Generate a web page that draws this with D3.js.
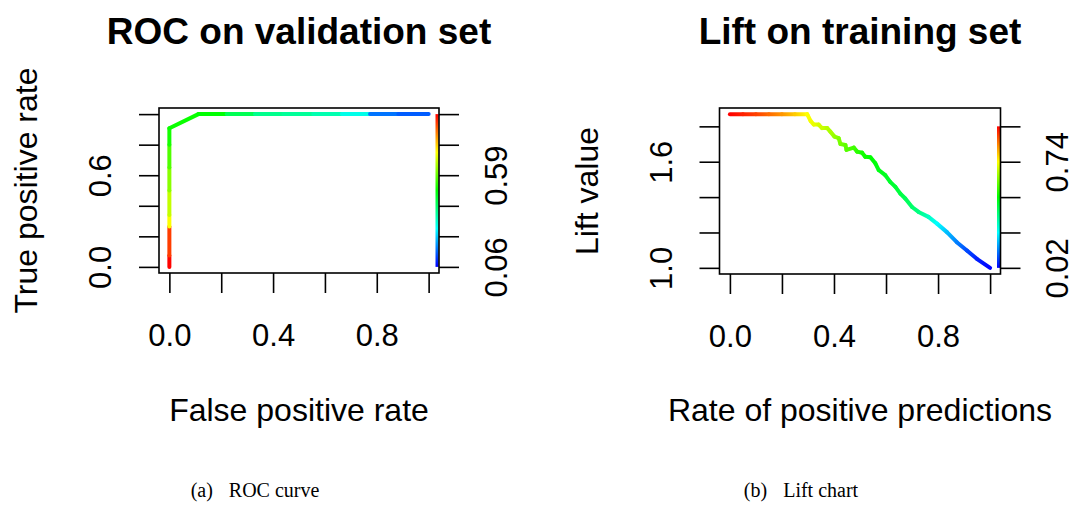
<!DOCTYPE html>
<html>
<head>
<meta charset="utf-8">
<script src="https://cdn.jsdelivr.net/npm/d3@7"></script>
<style>
  html, body { margin: 0; padding: 0; background: #fff; }
  svg { display: block; }
  text { font-family: "Liberation Sans", Arial, Helvetica, sans-serif; fill: #000; }
</style>
</head>
<body>
<script>
// ---------------- DATA ----------------
// ROC on validation set
const rocFPR = [0, 0, 0, 0, 0, 0, 0, 0, 0.112, 0.221, 0.33, 0.44, 0.555, 0.665, 0.774, 0.883, 1.0];
const rocTPR = [0, 0.075, 0.265, 0.34, 0.5, 0.65, 0.8, 0.907, 1, 1, 1, 1, 1, 1, 1, 1, 1];
// cutoff of each segment (between consecutive points)
const rocSegCutoff = [0.94, 0.89, 0.72, 0.67, 0.62, 0.57, 0.52, 0.51, 0.50, 0.43, 0.38, 0.37, 0.35, 0.30, 0.16, 0.14];
const rocCutRange = [0.06, 0.943];
const rocXTicks = [0, 0.2, 0.4, 0.6, 0.8, 1.0];
const rocXLabels = ["0.0", "", "0.4", "", "0.8", ""];
const rocYTicks = [0, 0.2, 0.4, 0.6, 0.8, 1.0];
const rocYLabels = ["0.0", "", "", "0.6", "", ""];
const rocCutTicks = [0.06, 0.237, 0.413, 0.59, 0.766, 0.943];
const rocCutLabels = ["0.06", "", "", "0.59", "", ""];

// Lift on training set
const liftRPP = [0, 0.05, 0.10, 0.15, 0.20, 0.25, 0.297, 0.31, 0.322, 0.341, 0.354, 0.374, 0.386, 0.402, 0.418, 0.425, 0.444, 0.448, 0.476, 0.489, 0.508, 0.52, 0.54, 0.559, 0.572, 0.597, 0.616, 0.636, 0.655, 0.674, 0.70, 0.725, 0.763, 0.796, 0.834, 0.872, 0.911, 0.949, 1.0];
const liftValue = [1.869, 1.869, 1.869, 1.869, 1.869, 1.869, 1.869, 1.831, 1.81, 1.81, 1.79, 1.79, 1.77, 1.742, 1.733, 1.70, 1.695, 1.667, 1.68, 1.657, 1.651, 1.628, 1.625, 1.591, 1.553, 1.524, 1.486, 1.458, 1.42, 1.392, 1.344, 1.316, 1.288, 1.25, 1.202, 1.145, 1.098, 1.051, 1.0];
const liftCutoff = [0.98, 0.95, 0.92, 0.88, 0.84, 0.79, 0.74, 0.73, 0.72, 0.70, 0.69, 0.67, 0.66, 0.64, 0.62, 0.61, 0.59, 0.58, 0.56, 0.54, 0.52, 0.51, 0.50, 0.49, 0.48, 0.47, 0.46, 0.45, 0.44, 0.42, 0.40, 0.38, 0.32, 0.26, 0.20, 0.14, 0.09, 0.05, 0.02];
const liftCutRange = [0.02, 0.98];
const liftXTicks = [0, 0.2, 0.4, 0.6, 0.8, 1.0];
const liftXLabels = ["0.0", "", "0.4", "", "0.8", ""];
const liftYTicks = [1.0, 1.2, 1.4, 1.6, 1.8];
const liftYLabels = ["1.0", "", "", "1.6", ""];
const liftCutTicks = [0.02, 0.26, 0.50, 0.74, 0.98];
const liftCutLabels = ["0.02", "", "", "0.74", ""];

// ---------------- DRAW ----------------
const W = 1073, H = 506;
const svg = d3.select("body").append("svg").attr("width", W).attr("height", H);
const defs = svg.append("defs");
let gid = 0;

function pad(ext) { const r = ext[1] - ext[0]; return [ext[0] - 0.04 * r, ext[1] + 0.04 * r]; }

function panel(cfg) {
  const b = cfg.box;
  const x = d3.scaleLinear().domain(pad(d3.extent(cfg.xs))).range([b.x0, b.x1]);
  const y = d3.scaleLinear().domain(pad(d3.extent(cfg.ys))).range([b.y1, b.y0]);
  const yT = cfg.yTicks;
  const cut = d3.scaleLinear().domain(cfg.cutRange).range([y(yT[0]), y(yT[yT.length - 1])]);
  const hue = d3.scaleLinear().domain(cfg.cutRange).range([240, 0]).clamp(true);
  const col = c => d3.hsl(hue(c), 1, 0.5).formatHex();
  const g = svg.append("g");

  // title
  g.append("text").attr("x", (b.x0 + b.x1) / 2).attr("y", 44)
    .attr("text-anchor", "middle").attr("font-weight", "bold").attr("font-size", 37)
    .text(cfg.title);

  // x axis
  const gx = g.append("g").attr("transform", `translate(0,${b.y1})`)
    .call(d3.axisBottom(x).tickValues(cfg.xTicks).tickSize(20).tickPadding(31)
      .tickFormat((d, i) => cfg.xLabels[i]));
  gx.select(".domain").remove();
  gx.selectAll(".tick line").attr("stroke", "#000").attr("stroke-width", 1.6);
  gx.selectAll(".tick text").attr("font-size", 31).attr("font-family", "Liberation Sans, Arial, sans-serif").attr("fill", "#000");

  // y axis (left)
  const gy = g.append("g").attr("transform", `translate(${b.x0},0)`)
    .call(d3.axisLeft(y).tickValues(cfg.yTicks).tickSize(20)
      .tickFormat((d, i) => cfg.yLabels[i]));
  gy.select(".domain").remove();
  gy.selectAll(".tick line").attr("stroke", "#000").attr("stroke-width", 1.6);
  gy.selectAll(".tick text").attr("font-size", 31).attr("font-family", "Liberation Sans, Arial, sans-serif").attr("fill", "#000")
    .attr("x", null).attr("dy", null).attr("text-anchor", "middle")
    .attr("transform", "translate(-48,0) rotate(-90)");

  // cutoff axis (right)
  const gc = g.append("g").attr("transform", `translate(${b.x1},0)`)
    .call(d3.axisRight(cut).tickValues(cfg.cutTicks).tickSize(20)
      .tickFormat((d, i) => cfg.cutLabels[i]));
  gc.select(".domain").remove();
  gc.selectAll(".tick line").attr("stroke", "#000").attr("stroke-width", 1.6);
  gc.selectAll(".tick text").attr("font-size", 31).attr("font-family", "Liberation Sans, Arial, sans-serif").attr("fill", "#000")
    .attr("x", null).attr("dy", null).attr("text-anchor", "middle")
    .attr("transform", "translate(67.5,0) rotate(-90)");

  // axis titles
  g.append("text").attr("x", (b.x0 + b.x1) / 2).attr("y", 421).attr("text-anchor", "middle")
    .attr("font-size", 32).text(cfg.xTitle);
  g.append("text").attr("text-anchor", "middle").attr("font-size", 32)
    .attr("transform", `translate(${b.x0 - 122},${(b.y0 + b.y1) / 2}) rotate(-90)`).text(cfg.yTitle);

  // colour bar
  const cbId = "cb" + (gid++);
  const cbGrad = defs.append("linearGradient").attr("id", cbId)
    .attr("gradientUnits", "userSpaceOnUse")
    .attr("x1", 0).attr("x2", 0).attr("y1", cut(cfg.cutRange[0])).attr("y2", cut(cfg.cutRange[1]));
  d3.range(0, 1.0001, 0.05).forEach(t => {
    const c = cfg.cutRange[0] + t * (cfg.cutRange[1] - cfg.cutRange[0]);
    cbGrad.append("stop").attr("offset", t).attr("stop-color", col(c));
  });
  g.append("rect").attr("x", b.x1 - 3.5).attr("width", 3.2)
    .attr("y", cut(cfg.cutRange[1])).attr("height", cut(cfg.cutRange[0]) - cut(cfg.cutRange[1]))
    .attr("fill", `url(#${cbId})`);

  // curve
  const lg = g.append("g").attr("fill", "none").attr("stroke-width", 4).attr("stroke-linecap", "round");
  for (let i = 0; i < cfg.xs.length - 1; i++) {
    const x1 = x(cfg.xs[i]), y1 = y(cfg.ys[i]), x2 = x(cfg.xs[i + 1]), y2 = y(cfg.ys[i + 1]);
    let stroke;
    if (cfg.segCut) {
      stroke = col(cfg.segCut[i]);
    } else {
      const id = "sg" + (gid++);
      const gr = defs.append("linearGradient").attr("id", id).attr("gradientUnits", "userSpaceOnUse")
        .attr("x1", x1).attr("y1", y1).attr("x2", x2 + (x2 === x1 && y2 === y1 ? 1 : 0)).attr("y2", y2);
      gr.append("stop").attr("offset", 0).attr("stop-color", col(cfg.ptCut[i]));
      gr.append("stop").attr("offset", 1).attr("stop-color", col(cfg.ptCut[i + 1]));
      stroke = `url(#${id})`;
    }
    lg.append("line").attr("x1", x1).attr("y1", y1).attr("x2", x2).attr("y2", y2).attr("stroke", stroke);
  }

  // box
  g.append("rect").attr("x", b.x0).attr("y", b.y0).attr("width", b.x1 - b.x0).attr("height", b.y1 - b.y0)
    .attr("fill", "none").attr("stroke", "#000").attr("stroke-width", 1.6);

  // caption
  const cap = g.append("text").attr("x", cfg.capX).attr("y", 497).attr("text-anchor", "middle")
    .attr("font-size", 20).style("font-family", "'Liberation Serif', 'DejaVu Serif', serif");
  cap.append("tspan").text(cfg.capTag);
  cap.append("tspan").attr("dx", 16).text(cfg.capText);
}

panel({
  box: { x0: 159, x1: 439, y0: 108, y1: 273 },
  xs: rocFPR, ys: rocTPR, segCut: rocSegCutoff, cutRange: rocCutRange,
  xTicks: rocXTicks, xLabels: rocXLabels, yTicks: rocYTicks, yLabels: rocYLabels,
  cutTicks: rocCutTicks, cutLabels: rocCutLabels,
  title: "ROC on validation set", xTitle: "False positive rate", yTitle: "True positive rate",
  capX: 255, capTag: "(a)", capText: "ROC curve"
});

panel({
  box: { x0: 719.5, x1: 1000.5, y0: 108, y1: 274 },
  xs: liftRPP, ys: liftValue, ptCut: liftCutoff, cutRange: liftCutRange,
  xTicks: liftXTicks, xLabels: liftXLabels, yTicks: liftYTicks, yLabels: liftYLabels,
  cutTicks: liftCutTicks, cutLabels: liftCutLabels,
  title: "Lift on training set", xTitle: "Rate of positive predictions", yTitle: "Lift value",
  capX: 801, capTag: "(b)", capText: "Lift chart"
});
</script>
</body>
</html>
